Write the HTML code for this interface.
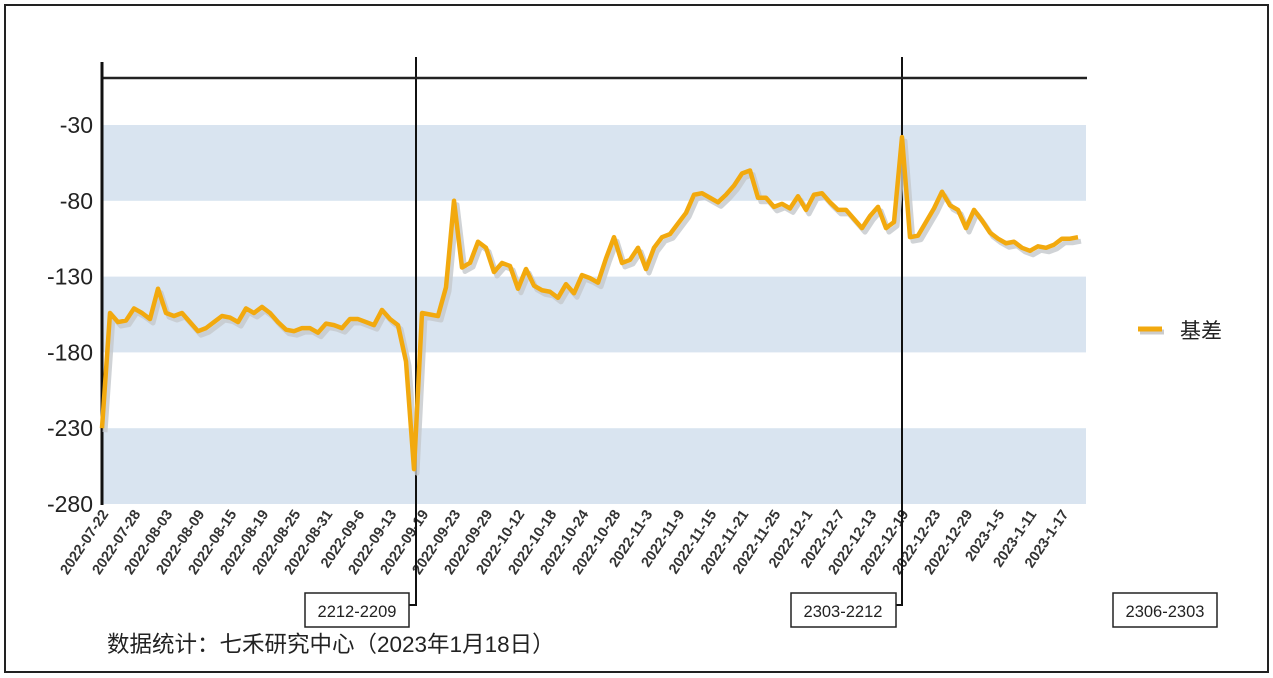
<!DOCTYPE html>
<html><head><meta charset="utf-8">
<style>
html,body{margin:0;padding:0;background:#fff;}
svg{display:block;font-family:"Liberation Sans","Noto Sans CJK SC",sans-serif;}
</style></head>
<body>
<svg id="chart" width="1273" height="678" viewBox="0 0 1273 678">
<rect x="5" y="5" width="1263" height="667" fill="#fff" stroke="#222" stroke-width="2"/>
<g id="bands"></g>
<g id="ylabels"></g>
<g id="xlabels"></g>
<g id="lines"></g>
<line x1="102" y1="78" x2="1087" y2="78" stroke="#222" stroke-width="2.5"/>
<line x1="102" y1="62" x2="102" y2="505" stroke="#111" stroke-width="3"/>
<g id="series"></g>
<g id="markers"></g>
<g>
<line x1="1140" y1="332" x2="1164" y2="332" stroke="#ccc" stroke-width="5"/>
<line x1="1138" y1="329" x2="1162" y2="329" stroke="#F2A90E" stroke-width="5"/>
<text x="1180" y="338" font-size="21" fill="#222">基差</text>
</g>
<text x="107" y="652" font-size="22.5" fill="#222">数据统计：七禾研究中心（2023年1月18日）</text>
</svg>
<script>
const categories = ["2022-07-22","2022-07-28","2022-08-03","2022-08-09","2022-08-15","2022-08-19","2022-08-25","2022-08-31","2022-09-6","2022-09-13","2022-09-19","2022-09-23","2022-09-29","2022-10-12","2022-10-18","2022-10-24","2022-10-28","2022-11-3","2022-11-9","2022-11-15","2022-11-21","2022-11-25","2022-12-1","2022-12-7","2022-12-13","2022-12-19","2022-12-23","2022-12-29","2023-1-5","2023-1-11","2023-1-17"];
const basis = [-230,-154,-160,-159,-151,-154,-158,-138,-154,-156,-154,-160,-166,-164,-160,-156,-157,-160,-151,-154,-150,-154,-160,-165,-166,-164,-164,-167,-161,-162,-164,-158,-158,-160,-162,-152,-158,-162,-186,-257,-154,-155,-156,-137,-80,-124,-121,-107,-111,-127,-121,-123,-138,-125,-136,-139,-140,-144,-135,-141,-129,-131,-134,-118,-104,-121,-119,-111,-125,-111,-104,-102,-95,-88,-76,-75,-78,-81,-76,-70,-62,-60,-78,-78,-84,-82,-85,-77,-86,-76,-75,-81,-86,-86,-92,-98,-90,-84,-98,-94,-38,-104,-103,-94,-85,-74,-83,-86,-98,-86,-93,-101,-105,-108,-107,-111,-113,-110,-111,-109,-105,-105,-104];
const yTicks = [-30,-80,-130,-180,-230,-280];
const bandRanges = [[-80,-30],[-180,-130],[-280,-230]];
const rollIndex = [39.25,100];
const rollLabels = ["2212-2209","2303-2212","2306-2303"];
const labelEvery = 4;

const NS="http://www.w3.org/2000/svg";
const X0=102, DX=8;
const xs = i => X0 + i*DX;
const ys = v => 125 + (-30 - v) * (379/250);
function mk(tag, attrs, parent){const e=document.createElementNS(NS,tag);for(const k in attrs)e.setAttribute(k,attrs[k]);parent.appendChild(e);return e;}
const xEnd = xs(123);

const bands=document.getElementById('bands');
bandRanges.forEach(r=>{
  const e=mk('rect',{x:X0,y:ys(r[1]),width:xEnd-X0,height:ys(r[0])-ys(r[1]),fill:'#d9e4f0'},bands);
  
  
});
const yl=document.getElementById('ylabels');
yTicks.forEach(t=>{
  const e=mk('text',{x:93,y:ys(t)+8,'font-size':23,'text-anchor':'end',fill:'#222'},yl);
  e.textContent=t;
  
  
});
const xl=document.getElementById('xlabels');
categories.forEach((c,k)=>{
  const x=xs(k*labelEvery)+7, y=514;
  const e=mk('text',{x:x,y:y,'font-size':14.5,'font-weight':'bold','text-anchor':'end',fill:'#333',transform:`rotate(-56 ${x} ${y})`},xl);
  e.textContent=c;
  
  
});
const ln=document.getElementById('lines');
rollIndex.forEach((ri,k)=>{
  const x=xs(ri);
  const e=mk('polyline',{points:`${x},57 ${x},605 ${x-8},605`,fill:'none',stroke:'#111','stroke-width':2},ln);
  
  
});
const mkG=document.getElementById('markers');
const boxX=[305,791,1113];
rollLabels.forEach((t,k)=>{
  const r=mk('rect',{x:boxX[k],y:593,width:k==1?105:104,height:34,fill:'#fff',stroke:'#222','stroke-width':1.5},mkG);
  
  
  const tx=mk('text',{x:boxX[k]+52,y:617,'font-size':16.5,'text-anchor':'middle',fill:'#222'},mkG);
  tx.textContent=t;
  
  
});
const sg=document.getElementById('series');
const pts=basis.map((v,i)=>`${xs(i)},${ys(v)}`).join(' ');
const sh=mk('polyline',{points:pts,fill:'none',stroke:'#c4c8cc','stroke-width':5,'stroke-linejoin':'round',transform:'translate(3,4)',opacity:0.8},sg);


const pl=mk('polyline',{points:pts,fill:'none',stroke:'#F2A90E','stroke-width':4.5,'stroke-linejoin':'round'},sg);


</script>
</body></html>
